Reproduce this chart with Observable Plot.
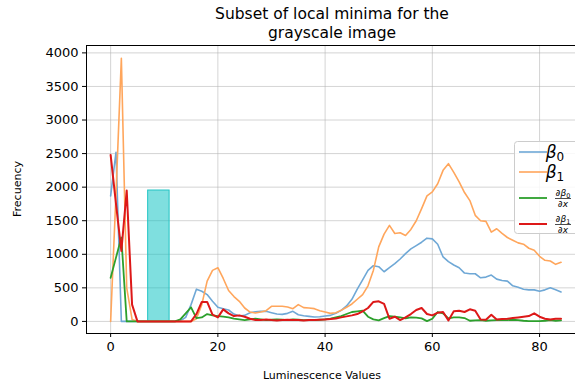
<!DOCTYPE html>
<html>
<head>
<meta charset="utf-8">
<script src="https://cdn.jsdelivr.net/npm/d3@7"></script>
<script src="https://cdn.jsdelivr.net/npm/@observablehq/plot@0.6"></script>
<style>
  html, body { margin: 0; padding: 0; background: white; }
  svg { font-family: "DejaVu Sans", sans-serif; }
</style>
</head>
<body>
<div id="chart"></div>
<script>
const titleLines = ["Subset of local minima for the", "grayscale image"];
const xLabel = "Luminescence Values";
const yLabel = "Frecuency";
const xTicks = [0, 20, 40, 60, 80];
const yTicks = [0, 500, 1000, 1500, 2000, 2500, 3000, 3500, 4000];

const beta0 = [1870,2520,0,0,0,0,0,0,0,0,0,0,0,10,60,250,480,450,400,300,
  210,190,170,110,80,90,130,145,150,150,130,110,105,120,150,100,85,75,65,70,
  80,90,120,165,230,330,480,620,760,830,815,740,800,860,930,1010,1080,1130,1180,1240,
  1230,1150,960,890,840,800,720,710,710,650,660,690,630,610,600,530,510,480,470,470,
  450,470,500,470,440];
const beta1 = [0,1900,3920,500,30,0,0,0,0,0,0,0,0,0,0,0,40,250,600,760,
  800,640,460,370,300,200,140,125,140,160,225,225,225,215,190,250,205,200,190,160,
  140,120,130,165,210,260,330,400,530,760,1110,1300,1430,1310,1320,1280,1370,1500,1680,1870,
  1930,2050,2250,2350,2220,2080,1920,1800,1580,1500,1490,1330,1380,1310,1250,1210,1170,1150,1090,1060,
  970,910,900,850,880];
const dBeta0 = [650,950,1250,0,0,0,0,0,0,0,0,0,0,30,120,210,50,60,110,90,
  80,70,60,40,30,20,30,40,30,20,25,30,25,20,30,25,20,20,20,25,
  30,40,60,80,110,140,150,160,70,30,15,50,80,70,60,45,60,55,45,5,
  40,140,120,45,60,60,50,10,15,20,10,15,20,20,20,25,20,10,5,5,
  5,10,20,10,15];
const dBeta1 = [2480,1750,1050,1950,250,0,0,0,0,0,0,0,0,0,0,0,110,290,290,100,
  60,180,120,80,90,70,40,20,20,30,20,15,20,25,20,20,15,20,20,25,
  30,35,45,60,75,90,110,150,200,290,300,260,40,70,20,60,110,170,200,110,
  90,130,140,15,150,160,140,180,160,30,25,100,30,35,40,50,60,70,80,120,
  70,40,30,40,40];
const barStart = [7];
const barEnd = [11];
const barHeight = [1950];

const seriesNames = ["β0", "β1", "∂β0/∂x", "∂β1/∂x"];
const seriesColors = ["#6fa8d6", "#ffa65c", "#2ca02c", "#dd1818"];
const seriesWidths = [1.6, 1.6, 1.8, 2.0];
const seriesValues = [beta0, beta1, dBeta0, dBeta1];

const rows = [];
seriesValues.forEach((vals, s) => vals.forEach((v, i) => rows.push({x: i, y: v, s: seriesNames[s]})));
const bars = barStart.map((b, i) => ({x1: b, x2: barEnd[i], y: barHeight[i]}));

const W = 575, H = 385;
const mL = 86, mR = 0, mT = 45, mB = 52;

const lineMarks = seriesNames.map((name, s) =>
  Plot.line(rows.filter(d => d.s === name), {x: "x", y: "y", stroke: seriesColors[s], strokeWidth: seriesWidths[s], strokeLinejoin: "round"})
);

const plot = Plot.plot({
  width: W, height: H,
  marginLeft: mL, marginRight: mR, marginTop: mT, marginBottom: mB,
  style: {fontFamily: "DejaVu Sans, sans-serif", fontSize: "13px", color: "#000", background: "white"},
  x: {domain: [-4.5, 86.7]},
  y: {domain: [-180, 4110]},
  marks: [
    Plot.gridX(xTicks, {stroke: "#b0b0b0", strokeOpacity: 0.55, strokeWidth: 1}),
    Plot.gridY(yTicks, {stroke: "#b0b0b0", strokeOpacity: 0.55, strokeWidth: 1}),
    Plot.rectY(bars, {x1: "x1", x2: "x2", y1: 0, y2: "y", fill: "#00c0c0", fillOpacity: 0.5, stroke: "#22c4c4", strokeWidth: 1}),
    ...lineMarks,
    Plot.axisX(xTicks, {tickSize: 4, tickPadding: 4, label: null, fontSize: 13, tickFormat: d => String(d)}),
    Plot.axisY(yTicks, {tickSize: 4, tickPadding: 4, label: null, fontSize: 13, tickFormat: d => String(d)}),
    Plot.frame({stroke: "black", strokeWidth: 1})
  ]
});

const svg = d3.select(plot);
// title
const t = svg.append("text").attr("text-anchor", "middle").attr("font-size", 15.5).attr("fill", "#000");
titleLines.forEach((l, i) => t.append("tspan").attr("x", 332).attr("y", 19 + i * 19).text(l));
// axis labels
svg.append("text").attr("x", 322).attr("y", 379).attr("text-anchor", "middle").attr("font-size", 11).text(xLabel);
svg.append("text").attr("transform", "translate(21,189) rotate(-90)").attr("text-anchor", "middle").attr("font-size", 11).text(yLabel);

// legend
const lg = svg.append("g");
lg.append("rect").attr("x", 514.5).attr("y", 141.5).attr("width", 70).attr("height", 92).attr("rx", 3)
  .attr("fill", "white").attr("fill-opacity", 0.85).attr("stroke", "#cccccc");
const ys = [152, 172, 198, 224];
seriesNames.forEach((name, s) => {
  lg.append("line").attr("x1", 519).attr("x2", 547).attr("y1", ys[s]).attr("y2", ys[s])
    .attr("stroke", seriesColors[s]).attr("stroke-width", seriesWidths[s]);
});
function betaLabel(y, sub) {
  const tx = lg.append("text").attr("x", 555).attr("y", y + 6).attr("font-size", 17).attr("font-style", "italic");
  tx.append("tspan").text("β");
  tx.append("tspan").attr("font-size", 12).attr("font-style", "normal").attr("dy", 3).text(sub);
}
betaLabel(ys[0], "0");
betaLabel(ys[1], "1");
function fracLabel(y, sub) {
  const num = lg.append("text").attr("x", 563).attr("y", y - 2).attr("text-anchor", "middle").attr("font-size", 9);
  num.append("tspan").text("∂");
  num.append("tspan").attr("font-style", "italic").text("β");
  num.append("tspan").attr("font-size", 6.5).attr("dy", 2).text(sub);
  lg.append("line").attr("x1", 555).attr("x2", 571).attr("y1", y + 0.5).attr("y2", y + 0.5).attr("stroke", "#000").attr("stroke-width", 0.7);
  const den = lg.append("text").attr("x", 563).attr("y", y + 9).attr("text-anchor", "middle").attr("font-size", 9);
  den.append("tspan").text("∂");
  den.append("tspan").attr("font-style", "italic").text("x");
}
fracLabel(ys[2], "0");
fracLabel(ys[3], "1");

document.getElementById("chart").appendChild(plot);
</script>
</body>
</html>
